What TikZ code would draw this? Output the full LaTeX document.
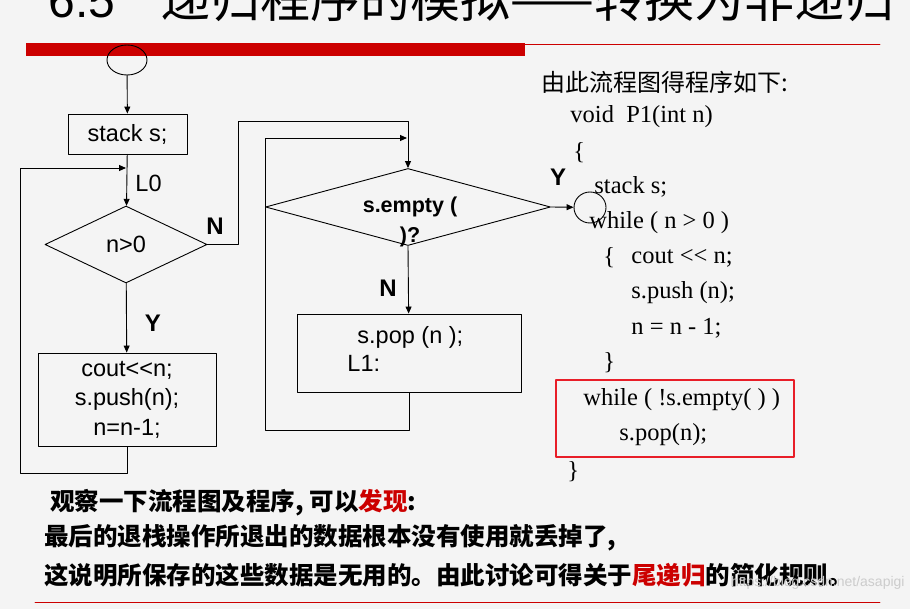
\documentclass[tikz,border=0pt]{standalone}
\usepackage{fontspec}
\setmainfont{Liberation Serif}
\setsansfont{Liberation Sans}
\newfontfamily\cjk{Noto Sans CJK SC}
\usetikzlibrary{arrows.meta,shapes.geometric}
\definecolor{slidebg}{RGB}{244,244,244}
\definecolor{slidered}{RGB}{204,0,0}
\definecolor{boxred}{RGB}{232,30,40}
\tikzset{
  flow/.style={font=\sffamily\fontsize{23.5}{29.5}\selectfont,inner sep=0},
  yn/.style={font=\sffamily\bfseries\fontsize{24}{28}\selectfont,inner sep=0},
  code/.style={font=\rmfamily\fontsize{24.5}{30}\selectfont,anchor=west,inner sep=0},
  note/.style={font=\cjk\bfseries\fontsize{24.5}{28}\selectfont,anchor=west,inner sep=0},
  box/.style={draw,rectangle,inner sep=0},
  decision/.style={draw,diamond,inner sep=0},
  term/.style={draw,ellipse,inner sep=0}
}

\begin{document}
\begin{tikzpicture}[line cap=round,line join=round,>={Triangle[length=7pt,width=6pt]},x=1pt,y=-1pt,line width=0.9pt]
\fill[slidebg] (0,0) rectangle (910,609);
\useasboundingbox (0,0) rectangle (910,609);
\node[anchor=base west,inner sep=0,font=\sffamily\fontsize{48}{52}\selectfont] (num) at (48,18) {6.5};
\node[anchor=base west,inner sep=0,font=\cjk\fontsize{50}{54}\selectfont] (title) at (160,18) {递归程序的模拟——转换为非递归};
\fill[slidered] (26,43) rectangle (525,56);
\draw[slidered] (525,44) -- (880,44);

\node[term,minimum width=40,minimum height=30] (start) at (127,60) {};
\node[box,flow,minimum width=119,minimum height=40] (init) at (127.5,134) {stack s;};
\node[decision,flow,minimum width=162,minimum height=77] (test) at (126,244.5) {n>0};
\node[box,flow,align=center,minimum width=178,minimum height=93] (body) at (127,399.5) {cout<{}<n;\\s.push(n);\\n=n-1;};
\node[flow,anchor=west] (l0) at (135,183) {L0};
\node[yn] (nlab) at (215,226) {N};
\node[yn] (ylab) at (153,323) {Y};
\coordinate (nturn) at (238,121);
\coordinate (loopa) at (20,473);
\coordinate (l0in) at (126,168);

\node[decision,minimum width=285,minimum height=77] (empty) at (408,207) {};
\node[font=\sffamily\bfseries\fontsize{21.5}{30}\selectfont,align=center,inner sep=0] (emptytxt) at (410,222) {s.empty (\\)?};
\node[yn] (ylab2) at (558,177) {Y};
\node[yn] (nlab2) at (388,288) {N};
\node[term,minimum width=32,minimum height=31] (stop) at (590,207.5) {};
\node[box,minimum width=224,minimum height=78] (pop) at (409,353) {};
\node[flow,anchor=west] (poptxt) at (357,337) {s.pop (n );};
\node[flow,anchor=west] (l1) at (347,363) {L1:};
\coordinate (loopb) at (265,430);
\coordinate (l1in) at (407,138);

\draw[->] (start) -- (init);
\draw[->] (init) -- (test);
\draw[->] (test) -- (body);
\draw[->] (body.south) |- (loopa) |- (l0in);
\draw[->] (test.east) -| (nturn) -| (empty.north);
\draw[->] (empty.south) -- (pop);
\draw[->] (pop.south) |- (loopb) |- (l1in);
\draw[->] (empty.east) -- (stop);

\node[anchor=west,inner sep=0,font=\cjk\fontsize{24}{28}\selectfont] (prog) at (541,82) {由此流程图得程序如下:};
\node[code] (c1) at (570,117) {void\ \ P1(int n)};
\node[code] (c2) at (573,153) {\{};
\node[code] (c3) at (594,187) {stack s;};
\node[code] (c4) at (589,223) {while ( n > 0 )};
\node[code] (c5) at (603,258) {\{};
\node[code] (c6) at (631,258) {cout <{}< n;};
\node[code] (c7) at (631,293) {s.push (n);};
\node[code] (c8) at (631,328) {n = n - 1;};
\node[code] (c9) at (603,363) {\}};
\node[draw=boxred,line width=2pt,minimum width=238,minimum height=77] (tail) at (675,418.5) {};
\node[code] (c10) at (583,400) {while ( !s.empty( ) )};
\node[code] (c11) at (619,435) {s.pop(n);};
\node[code] (c12) at (567,472) {\}};

\node[note] (obs1) at (50,503) {观察一下流程图及程序, 可以\textcolor{slidered}{发现}:};
\node[note] (obs2) at (44,538) {最后的退栈操作所退出的数据根本没有使用就丢掉了,};
\node[note] (obs3) at (44,575) {这说明所保存的这些数据是无用的。由此讨论可得关于\textcolor{slidered}{尾递归}的简化规则。};
\node[anchor=east,inner sep=0,text=gray!40,font=\sffamily\fontsize{14}{16}\selectfont] (mark) at (905,583) {https://blog.csdn.net/asapigi};
\draw[slidered] (35,602) -- (880,602);
\end{tikzpicture}
\end{document}
